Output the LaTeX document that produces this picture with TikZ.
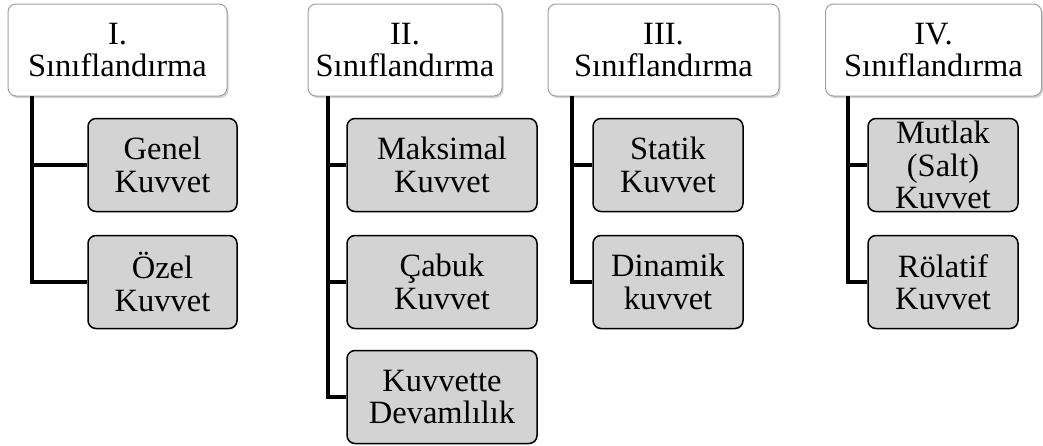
\documentclass[tikz,border=0pt]{standalone}
\usepackage{fontspec}
\setmainfont{Liberation Serif}
\usetikzlibrary{shadows}
\definecolor{boxgray}{RGB}{211,211,211}
\definecolor{edgegray}{RGB}{160,160,160}
\tikzset{
  headbox/.style={draw=edgegray, line width=1pt, fill=white, rounded corners=8pt,
    align=center, inner sep=0pt, minimum height=92pt,
    font=\fontsize{32.5}{32.5}\selectfont,
    drop shadow={opacity=0.35, shadow xshift=1.5pt, shadow yshift=-2pt}},
  leafbox/.style={draw=black, line width=1.5pt, fill=boxgray, rounded corners=8pt,
    align=center, inner sep=0pt, minimum height=93pt,
    font=\fontsize{32.5}{32.5}\selectfont},
  branch/.style={line width=4pt, draw=black, line join=miter}
}
\begin{document}
\begin{tikzpicture}[x=1pt,y=-1pt]
\useasboundingbox (0,0) rectangle (1043,445);
% Column I
\node[headbox, minimum width=219pt] (h1) at (117.5,50) {I.\\Sınıflandırma};
\node[leafbox, minimum width=149pt] (a1) at (162.5,165) {Genel\\Kuvvet};
\node[leafbox, minimum width=149pt] (a2) at (162.5,282) {Özel\\Kuvvet};
\coordinate (t1) at (32,96);
% Column II
\node[headbox, minimum width=194pt] (h2) at (405,50) {II.\\Sınıflandırma};
\node[leafbox, minimum width=190pt] (b1) at (442,165) {Maksimal\\Kuvvet};
\node[leafbox, minimum width=190pt] (b2) at (442,282) {Çabuk\\Kuvvet};
\node[leafbox, minimum width=190pt] (b3) at (442,397) {Kuvvette\\Devamlılık};
\coordinate (t2) at (328,96);
% Column III
\node[headbox, minimum width=231pt] (h3) at (663.5,50) {III.\\Sınıflandırma};
\node[leafbox, minimum width=150pt] (c1) at (668,165) {Statik\\Kuvvet};
\node[leafbox, minimum width=150pt] (c2) at (668,282) {Dinamik\\kuvvet};
\coordinate (t3) at (572,96);
% Column IV
\node[headbox, minimum width=216pt] (h4) at (933.5,50) {IV.\\Sınıflandırma};
\node[leafbox, minimum width=150pt] (d1) at (943,165) {Mutlak\\(Salt)\\Kuvvet};
\node[leafbox, minimum width=150pt] (d2) at (943,282) {Rölatif\\Kuvvet};
\coordinate (t4) at (848,96);
% connectors
\draw[branch] (t1) |- (a1.west);
\draw[branch] (t1) |- (a2.west);
\draw[branch] (t2) |- (b1.west);
\draw[branch] (t2) |- (b2.west);
\draw[branch] (t2) |- (b3.west);
\draw[branch] (t3) |- (c1.west);
\draw[branch] (t3) |- (c2.west);
\draw[branch] (t4) |- (d1.west);
\draw[branch] (t4) |- (d2.west);
\end{tikzpicture}
\end{document}
